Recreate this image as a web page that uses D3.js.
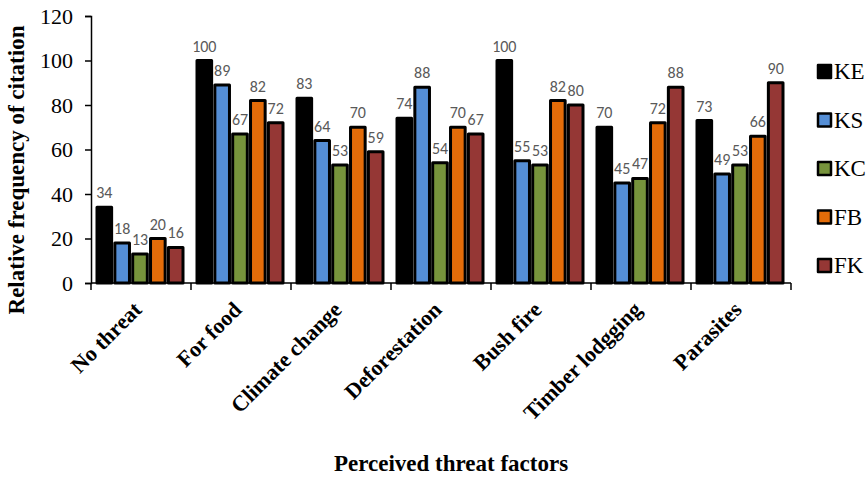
<html>
<head>
<style>
  body { margin: 0; background: #fff; }
  svg text { font-family: "Liberation Serif", "Times New Roman", serif; }
</style>
</head>
<body>
<div id="chart"></div>
<script src="https://d3js.org/d3.v7.min.js"></script>
<script>
  const categories = ['No threat', 'For food', 'Climate change', 'Deforestation', 'Bush fire', 'Timber lodgging', 'Parasites']
  const seriesNames = ['KE', 'KS', 'KC', 'FB', 'FK']
  const KE = [34, 100, 83, 74, 100, 70, 73]
  const KS = [18, 89, 64, 88, 55, 45, 49]
  const KC = [13, 67, 53, 54, 53, 47, 53]
  const FB = [20, 82, 70, 70, 82, 72, 66]
  const FK = [16, 72, 59, 67, 80, 88, 90]
  const yTicks = [0, 20, 40, 60, 80, 100, 120]
  const colors = ['#000000', '#558ed5', '#77933c', '#e36c09', '#953735']

  const seriesValues = [KE, KS, KC, FB, FK]
  const rows = categories.map((c, i) => ({
    name: c,
    vals: seriesNames.map((s, j) => ({ key: s, value: seriesValues[j][i], color: colors[j] }))
  }))

  const width = 868, height = 477
  const serif = '"Liberation Serif", "Times New Roman", serif'
  const svg = d3.select('#chart').append('svg')
    .attr('width', width).attr('height', height)

  const x0 = d3.scaleBand().domain(categories).range([91, 791]).padding(0)
  const x1 = d3.scaleBand().domain(seriesNames).range([6, 92]).paddingInner(0.18)
  const y = d3.scaleLinear().domain([0, 120]).range([283, 16])

  // bars
  const groups = svg.append('g').selectAll('g')
    .data(rows).join('g')
    .attr('transform', d => `translate(${x0(d.name)},0)`)

  groups.selectAll('rect')
    .data(d => d.vals).join('rect')
    .attr('x', d => x1(d.key))
    .attr('y', d => y(d.value))
    .attr('width', x1.bandwidth())
    .attr('height', d => y(0) - y(d.value))
    .attr('fill', d => d.color)
    .attr('stroke', '#000')
    .attr('stroke-width', 3)
    .attr('stroke-linejoin', 'round')

  groups.selectAll('text')
    .data(d => d.vals).join('text')
    .attr('x', d => x1(d.key) + x1.bandwidth() / 2)
    .attr('y', d => y(d.value) - 9)
    .attr('text-anchor', 'middle')
    .style('font-family', 'Carlito, Calibri, "Liberation Sans", sans-serif')
    .style('font-size', '16px')
    .attr('fill', '#595959')
    .text(d => d.value)

  // y axis
  const yAxis = d3.axisLeft(y).tickValues(yTicks).tickSize(6).tickPadding(12)
  const gy = svg.append('g').attr('transform', 'translate(91,0)').call(yAxis)
  gy.select('.domain').attr('stroke', '#000').attr('stroke-width', 1.5)
  gy.selectAll('.tick line').attr('stroke', '#000').attr('stroke-width', 1.5)
  gy.selectAll('.tick text')
    .style('font-family', serif)
    .style('font-size', '22px').attr('fill', '#000')

  // x axis with ticks between categories
  svg.append('line')
    .attr('x1', 91).attr('x2', 791).attr('y1', y(0)).attr('y2', y(0))
    .attr('stroke', '#000').attr('stroke-width', 1.5)
  svg.append('g').selectAll('line')
    .data(categories.concat(['end'])).join('line')
    .attr('x1', (d, i) => 91 + i * x0.step())
    .attr('x2', (d, i) => 91 + i * x0.step())
    .attr('y1', y(0)).attr('y2', y(0) + 7)
    .attr('stroke', '#000').attr('stroke-width', 1.5)

  svg.append('g').selectAll('text')
    .data(categories).join('text')
    .attr('transform', d => `translate(${x0(d) + x0.bandwidth() / 2 + 2},311) rotate(-45)`)
    .attr('text-anchor', 'end')
    .style('font-family', serif)
    .style('font-size', '22px')
    .style('font-weight', 'bold')
    .text(d => d)

  // axis titles
  svg.append('text')
    .attr('transform', 'translate(24,170) rotate(-90)')
    .attr('text-anchor', 'middle')
    .style('font-family', serif)
    .style('font-size', '23px').style('font-weight', 'bold')
    .text('Relative frequency of citation')

  svg.append('text')
    .attr('x', 451).attr('y', 471)
    .attr('text-anchor', 'middle')
    .style('font-family', serif)
    .style('font-size', '23px').style('font-weight', 'bold')
    .text('Perceived threat factors')

  // legend
  const legend = svg.append('g').selectAll('g')
    .data(seriesNames).join('g')
    .attr('transform', (d, i) => `translate(818,${65 + i * 48.5})`)
  legend.append('rect')
    .attr('width', 13).attr('height', 13)
    .attr('fill', (d, i) => colors[i])
    .attr('stroke', '#000').attr('stroke-width', 2.5)
    .attr('stroke-linejoin', 'round')
  legend.append('text')
    .attr('x', 16).attr('y', 14)
    .style('font-family', serif)
    .style('font-size', '23px')
    .text(d => d)
</script>
</body>
</html>
